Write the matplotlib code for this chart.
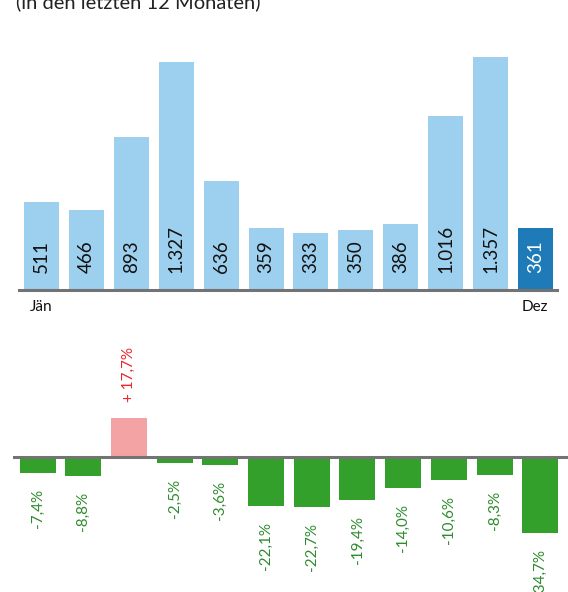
import matplotlib
matplotlib.use("Agg")
import matplotlib.pyplot as plt

plt.rcParams['font.family'] = ['Lato', 'DejaVu Sans']

months = ["Jän", "Feb", "Mär", "Apr", "Mai", "Jun", "Jul", "Aug", "Sep", "Okt", "Nov", "Dez"]
counts = [511, 466, 893, 1327, 636, 359, 333, 350, 386, 1016, 1357, 361]
changes = [-7.4, -8.8, 17.7, -2.5, -3.6, -22.1, -22.7, -19.4, -14.0, -10.6, -8.3, -34.7]
title = "(in den letzten 12 Monaten)"

W, H = 568, 592
fig = plt.figure(figsize=(W / 100, H / 100), dpi=100)

light_blue = "#9DCFEE"
dark_blue = "#1F7AB8"
green = "#33A02C"
pink = "#F4A3A5"
green_txt = "#2E8B2E"
red_txt = "#E8262B"

# ---- top chart ----
ax1 = fig.add_axes([0, (H - 290) / H, 1, 290 / H])
x = list(range(len(counts)))
a1, b1 = 41.5, 44.9
ax1.set_xlim(-a1 / b1, (W - a1) / b1)
ax1.set_ylim(0, 290 / 0.1717)
cols = [light_blue] * (len(counts) - 1) + [dark_blue]
ax1.bar(x, counts, width=35 / b1, color=cols, linewidth=0)
ax1.axhline(0, xmin=19 / W, xmax=557 / W, color="#737373", lw=2.2, clip_on=False)
for i, v in enumerate(counts):
    lab = f"{v:,}".replace(",", ".")
    ax1.annotate(lab, (i, 0), xytext=(0, 17), textcoords="offset pixels",
                 rotation=90, ha="center", va="bottom", fontsize=13.5,
                 color="white" if i == len(counts) - 1 else "#111111")
ax1.axis("off")

fig.text(30 / W, 1 - 307 / H, months[0], ha="left", va="center", fontsize=11, color="#111111")
fig.text(548 / W, 1 - 307 / H, months[-1], ha="right", va="center", fontsize=11, color="#111111")

# ---- bottom chart ----
ax2 = fig.add_axes([0, 0, 1, 272 / H])
a2, b2 = 37.5, 45.7
ax2.set_xlim(-a2 / b2, (W - a2) / b2)
ax2.set_ylim(-135 / 2.2, 137 / 2.2)
cols2 = [pink if c > 0 else green for c in changes]
ax2.bar(x, changes, width=36 / b2, color=cols2, linewidth=0)
ax2.axhline(0, xmin=14 / W, xmax=1, color="#737373", lw=2.2, clip_on=False)
for i, c in enumerate(changes):
    if c > 0:
        lab = "+ " + f"{c:.1f}".replace(".", ",") + "%"
        ax2.annotate(lab, (i, c), xytext=(0, 16), textcoords="offset pixels",
                     rotation=90, ha="center", va="bottom", fontsize=11,
                     color=red_txt)
    else:
        lab = f"{c:.1f}".replace(".", ",") + "%"
        ax2.annotate(lab, (i, c), xytext=(0, -16), textcoords="offset pixels",
                     rotation=90, ha="center", va="top", fontsize=11,
                     color=green_txt)
ax2.axis("off")

fig.text(16 / W, 1 - 8 / H, title, ha="left", va="baseline", fontsize=14.5, color="#222222")

fig.savefig("out.png", dpi=100)
